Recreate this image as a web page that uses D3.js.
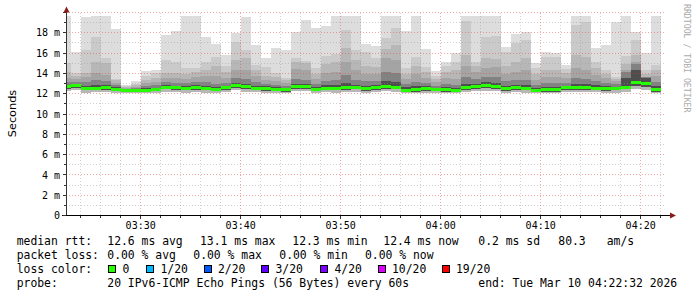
<!DOCTYPE html>
<html><head><meta charset="utf-8">
<script src="https://cdn.jsdelivr.net/npm/d3@7"></script>
<style>body{margin:0;background:#fff}svg{display:block}text{font-family:"DejaVu Sans Mono",monospace}</style>
</head><body>
<svg id="c" width="697" height="297"></svg>
<script>
// ---- time range (one hour, 60 s steps) ----
const startTime = new Date(2026, 2, 10, 3, 22, 32);
const endTime   = new Date(2026, 2, 10, 4, 22, 32);
const binEnds = d3.timeMinute.range(new Date(2026, 2, 10, 3, 23), new Date(2026, 2, 10, 4, 22, 1));

// ---- median rtt per minute (ms) ----
const median = [12.72,12.83,12.55,12.55,12.62,12.42,12.30,12.31,12.36,12.42,
  12.63,12.58,12.54,12.62,12.55,12.45,12.58,12.83,12.67,12.56,
  12.52,12.42,12.42,12.70,12.70,12.42,12.55,12.55,12.63,12.63,
  12.52,12.62,12.70,12.64,12.36,12.40,12.52,12.43,12.40,12.33,
  12.63,12.70,12.80,12.72,12.52,12.62,12.53,12.34,12.40,12.40,
  12.62,12.62,12.62,12.56,12.52,12.52,12.64,13.10,12.96,12.40];
// ---- sorted ping values (smoke), ms ----
const ping1 = [12.25,12.38,12.10,12.12,12.15,12.05,12.02,12.03,12.05,12.08,
  12.18,12.12,12.10,12.14,12.11,12.06,12.12,12.35,12.20,12.12,
  12.10,12.05,12.04,12.22,12.25,12.05,12.12,12.10,12.16,12.18,
  12.08,12.16,12.22,12.20,12.03,12.05,12.10,12.06,12.04,12.02,
  12.17,12.22,12.30,12.25,12.08,12.16,12.10,12.02,12.05,12.05,
  12.15,12.16,12.15,12.12,12.10,12.08,12.18,12.45,12.40,12.05];
const ping5 = [12.50,12.60,12.33,12.34,12.40,12.22,12.14,12.13,12.17,12.22,
  12.42,12.37,12.33,12.40,12.34,12.25,12.36,12.60,12.45,12.35,
  12.31,12.22,12.21,12.48,12.49,12.22,12.34,12.33,12.41,12.42,
  12.31,12.40,12.48,12.43,12.17,12.20,12.31,12.23,12.20,12.15,
  12.41,12.48,12.57,12.50,12.31,12.41,12.32,12.15,12.20,12.21,
  12.41,12.40,12.41,12.35,12.31,12.32,12.42,12.80,12.70,12.20];
const ping12 = [12.88,13.00,12.78,12.83,12.88,12.63,12.43,12.43,12.53,12.58,
  12.83,12.78,12.73,12.83,12.78,12.68,12.78,13.03,12.93,12.78,
  12.73,12.63,12.58,12.98,12.93,12.63,12.83,12.88,13.03,12.88,
  12.78,12.83,13.22,13.17,12.63,12.73,12.73,12.58,12.63,12.53,
  12.98,12.98,13.13,13.03,12.78,12.88,12.83,12.53,12.63,12.63,
  12.78,12.93,12.93,12.83,12.73,12.68,13.52,14.31,13.52,12.73];
const ping14 = [13.13,13.13,13.13,13.32,13.22,12.83,12.48,12.53,12.73,12.83,
  13.13,13.03,13.03,13.13,13.13,12.93,13.03,13.52,13.42,13.13,
  12.93,12.83,12.73,13.42,13.32,12.93,13.22,13.32,13.81,13.32,
  13.22,13.22,14.11,14.01,12.93,13.13,13.03,12.78,12.93,12.83,
  13.62,13.42,13.62,13.62,13.22,13.32,13.32,12.83,13.03,13.03,
  13.03,13.52,13.42,13.22,13.03,12.93,14.11,14.90,13.62,13.13];
const ping16 = [13.52,13.42,13.62,14.01,13.81,13.08,12.58,12.68,13.03,13.13,
  13.52,13.52,13.42,13.62,13.71,13.71,13.52,14.31,14.31,13.71,
  13.32,13.22,13.03,14.41,14.31,13.42,14.01,14.11,15.10,14.31,
  13.91,13.91,15.49,15.29,13.42,13.91,13.52,13.13,13.52,13.42,
  14.70,14.11,14.51,14.60,13.91,14.11,14.31,13.32,13.62,13.62,
  13.52,14.51,14.31,13.81,13.52,13.22,14.31,15.10,13.62,13.71];
const ping17 = [14.11,13.71,14.01,15.13,15.00,13.32,12.63,12.83,13.32,13.52,
  14.01,14.01,13.91,14.11,14.31,14.70,14.11,15.29,15.49,14.31,
  13.71,13.62,13.32,15.10,15.00,13.91,14.90,15.10,16.47,15.29,
  14.70,14.60,16.38,16.77,13.91,14.70,14.11,13.42,14.11,14.31,
  15.79,14.70,15.49,15.39,14.70,15.10,15.49,13.91,14.31,14.31,
  14.01,15.79,15.59,14.51,13.91,13.42,14.90,15.79,13.91,14.31];
const ping18 = [15.00,14.04,16.35,17.59,15.56,13.49,12.73,12.98,13.71,14.01,
  15.29,15.15,14.51,14.55,15.15,15.59,14.70,17.13,16.28,14.80,
  14.60,14.06,13.57,15.49,15.24,14.51,15.74,15.88,18.25,16.28,
  16.08,15.49,17.46,18.44,14.51,15.62,14.63,13.71,14.70,15.10,
  19.13,15.13,17.59,17.69,16.11,17.04,17.26,14.51,15.62,15.59,
  14.48,18.74,19.06,15.13,14.31,13.65,15.72,17.26,14.31,14.87];
const ping19 = [19.70,16.11,19.55,19.70,19.70,18.35,12.88,13.22,14.21,14.31,
  17.75,18.15,19.70,19.70,17.56,16.87,15.79,18.00,19.53,16.77,
  15.49,16.54,16.33,18.10,19.23,18.49,18.69,19.70,19.70,19.70,
  16.87,16.72,19.70,19.70,18.17,19.70,16.38,14.21,15.15,16.00,
  19.70,19.70,19.70,19.70,16.60,17.85,18.08,15.07,16.11,16.05,
  14.87,19.70,19.70,16.50,16.77,19.06,19.70,18.08,16.05,19.70];

// ---- axis tick labels ----
const yTickValues = [0, 2, 4, 6, 8, 10, 12, 14, 16, 18];
const yTickLabels = ["0", "2 m", "4 m", "6 m", "8 m", "10 m", "12 m", "14 m", "16 m", "18 m"];

// ---- legend ----
const legendRtt  = [["median rtt:",16.7],["12.6 ms avg",107.3],["13.1 ms max",200],["12.3 ms min",292.3],["12.4 ms now",383.3],["0.2 ms sd",478.3],["80.3",558.3],["am/s",606.7]];
const legendLoss = [["packet loss:",16.7],["0.00 % avg",107.3],["0.00 % max",193.3],["0.00 % min",279.3],["0.00 % now",365]];
const lossLabels = ["0","1/20","2/20","3/20","4/20","10/20","19/20"];
const lossColors = ["#26ff00","#00b8ff","#0059ff","#5e00ff","#7e00ff","#dd00ff","#ff0000"];
const lossBoxX   = [108,146,203.5,261,320,377.5,441.5];
const legendProbe = [["probe:",16.7],["20 IPv6-ICMP Echo Pings (56 Bytes) every 60s",107.3],["end: Tue Mar 10 04:22:32 2026",478.3]];

// ---- drawing ----
const svg = d3.select("#c");
svg.append("rect").attr("width",697).attr("height",297).attr("fill","#fff");

const x = d3.scaleTime().domain([startTime, endTime]).range([66, 666]);
const y = d3.scaleLinear().domain([0, 20]).range([215.5, 12.5]);

const cols = binEnds.map((t, i) => ({
  i,
  x0: x(new Date(Math.max(+t - 60000, +startTime))),
  x1: x(t)
}));

const bands = [
  {lo: ping1, hi: ping19, color: "#dddddd"},
  {lo: ping1, hi: ping18, color: "#cacaca"},
  {lo: ping1, hi: ping17, color: "#b7b7b7"},
  {lo: ping5, hi: ping16, color: "#a4a4a4"},
  {lo: ping5, hi: ping14, color: "#828282"},
  {lo: ping5, hi: ping12, color: "#4e4e4e"}
];
const gSmoke = svg.append("g").attr("shape-rendering", "crispEdges");
bands.forEach(b => {
  gSmoke.append("g").selectAll("rect").data(cols).join("rect")
    .attr("x", d => d.x0).attr("width", d => d.x1 - d.x0)
    .attr("y", d => y(b.hi[d.i]))
    .attr("height", d => y(b.lo[d.i]) - y(b.hi[d.i]))
    .attr("fill", b.color);
});

// grid
const gGrid = svg.append("g").attr("shape-rendering", "crispEdges");
y.ticks(20).filter(v => v > 0).forEach(v => {
  const py = Math.floor(y(v)) + 0.5;
  gGrid.append("line").attr("x1", 66).attr("x2", 666).attr("y1", py).attr("y2", py)
    .attr("stroke", v % 2 === 0 ? "rgba(230,60,60,0.45)" : "rgba(150,150,150,0.45)")
    .attr("stroke-dasharray", "1,2");
});
x.ticks(d3.timeMinute.every(2)).forEach(t => {
  const px = Math.floor(x(t)) + 0.5;
  const major = t.getMinutes() % 10 === 0;
  gGrid.append("line").attr("x1", px).attr("x2", px).attr("y1", 12.5).attr("y2", 215)
    .attr("stroke", major ? "rgba(230,60,60,0.45)" : "rgba(150,150,150,0.45)")
    .attr("stroke-dasharray", "1,2");
});

// median band
svg.append("g").attr("shape-rendering", "crispEdges").selectAll("rect").data(cols).join("rect")
  .attr("x", d => d.x0).attr("width", d => d.x1 - d.x0)
  .attr("y", d => y(median[d.i]) - 1.5).attr("height", 3)
  .attr("fill", lossColors[0]);

// axes
const gAx = svg.append("g").attr("shape-rendering", "crispEdges");
gAx.append("line").attr("x1", 66.5).attr("x2", 66.5).attr("y1", 216).attr("y2", 11).attr("stroke", "#333");
gAx.append("line").attr("x1", 62).attr("x2", 671).attr("y1", 215.5).attr("y2", 215.5).attr("stroke", "#000");
y.ticks(20).forEach(v => {
  const py = Math.floor(y(v)) + 0.5;
  gAx.append("line").attr("x1", v % 2 === 0 ? 62.5 : 64).attr("x2", 66).attr("y1", py).attr("y2", py).attr("stroke", "#333");
});
x.ticks(d3.timeMinute.every(2)).forEach(t => {
  const px = Math.floor(x(t)) + 0.5;
  const major = t.getMinutes() % 10 === 0;
  gAx.append("line").attr("x1", px).attr("x2", px).attr("y1", 216).attr("y2", major ? 219 : 217.5).attr("stroke", "#333");
});
svg.append("path").attr("d", "M66.5,6.5 L63.5,12.5 L69.5,12.5 Z").attr("fill", "#8b1a1a");
svg.append("path").attr("d", "M676,215.5 L670,212.5 L670,218.5 Z").attr("fill", "#8b1a1a");

// y labels
svg.append("g").selectAll("text").data(yTickValues).join("text")
  .attr("x", 60).attr("y", v => y(v) + 3.6)
  .attr("text-anchor", "end").attr("font-size", "10px").attr("fill", "#000")
  .attr("xml:space", "preserve")
  .text((v, i) => yTickLabels[i]);
// x labels
const fmt = d3.timeFormat("%H:%M");
svg.append("g").selectAll("text").data(x.ticks(d3.timeMinute.every(10))).join("text")
  .attr("x", t => x(t)).attr("y", 228.5)
  .attr("text-anchor", "middle").attr("font-size", "10px").attr("fill", "#000")
  .text(fmt);

// axis title
svg.append("text").attr("transform", "translate(15.5,113.5) rotate(-90)")
  .attr("text-anchor", "middle").attr("font-size", "11.3px")
  .style("font-family", "'DejaVu Sans',sans-serif").attr("fill", "#000").text("Seconds");

// watermark
svg.append("text").attr("transform", "translate(684,4) rotate(90)")
  .attr("font-size", "8.2px").attr("fill", "#aaaaaa").text("RRDTOOL / TOBI OETIKER");

// legend
const leg = svg.append("g").attr("font-size", "11.4px").attr("fill", "#000");
function legLine(items, yy) {
  items.forEach(([t, xx]) => leg.append("text").attr("x", xx).attr("y", yy).attr("xml:space", "preserve").text(t));
}
legLine(legendRtt, 245);
legLine(legendLoss, 259);
legLine([["loss color:", 16.7]], 273);
lossLabels.forEach((l, i) => {
  leg.append("rect").attr("x", lossBoxX[i] + 0.5).attr("y", 265.5).attr("width", 7).attr("height", 7)
    .attr("fill", lossColors[i]).attr("stroke", "#000").attr("stroke-width", 1).attr("shape-rendering", "crispEdges");
  leg.append("text").attr("x", lossBoxX[i] + 14.5).attr("y", 273).text(l);
});
legLine(legendProbe, 287);
</script>
</body></html>
